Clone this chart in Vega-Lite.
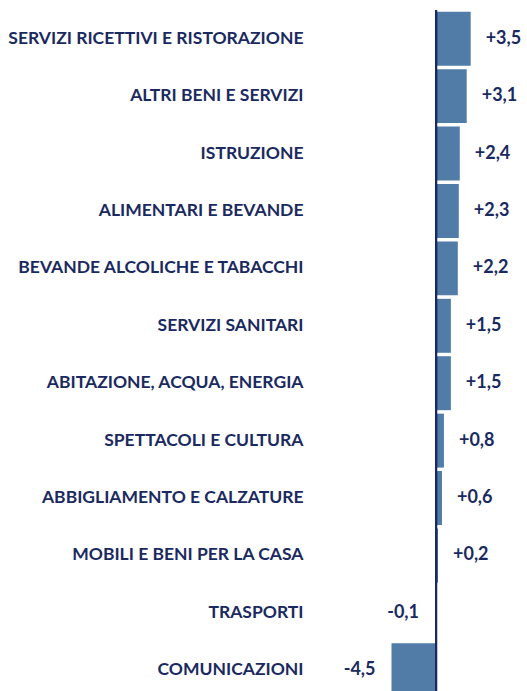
{
  "$schema": "https://vega.github.io/schema/vega-lite/v6.json",
  "autosize": {"type": "none"},
  "padding": {"left": 310, "top": 10, "right": 0, "bottom": 0},
  "width": 217,
  "height": 689,
  "background": "white",
  "config": {
    "view": {"stroke": null},
    "locale": {"number": {"decimal": ",", "thousands": ".", "grouping": [3], "currency": ["", " €"], "minus": "-"}}
  },
  "data": {
    "values": [
      {"cat": "SERVIZI RICETTIVI E RISTORAZIONE", "v": 3.5},
      {"cat": "ALTRI BENI E SERVIZI", "v": 3.1},
      {"cat": "ISTRUZIONE", "v": 2.4},
      {"cat": "ALIMENTARI E BEVANDE", "v": 2.3},
      {"cat": "BEVANDE ALCOLICHE E TABACCHI", "v": 2.2},
      {"cat": "SERVIZI SANITARI", "v": 1.5},
      {"cat": "ABITAZIONE, ACQUA, ENERGIA", "v": 1.5},
      {"cat": "SPETTACOLI E CULTURA", "v": 0.8},
      {"cat": "ABBIGLIAMENTO E CALZATURE", "v": 0.6},
      {"cat": "MOBILI E BENI PER LA CASA", "v": 0.2},
      {"cat": "TRASPORTI", "v": -0.1},
      {"cat": "COMUNICAZIONI", "v": -4.5}
    ]
  },
  "encoding": {
    "y": {
      "field": "cat", "type": "nominal", "sort": null,
      "scale": {"paddingInner": 0.06, "paddingOuter": 0.03},
      "axis": {
        "title": null, "domain": false, "ticks": false, "labelPadding": 7,
        "labelFont": "Lato", "labelFontSize": 17.5, "labelFontWeight": "bold",
        "labelColor": "#1a2a60", "labelLimit": 400
      }
    }
  },
  "layer": [
    {
      "mark": {"type": "bar", "color": "#517ca8"},
      "encoding": {
        "x": {
          "field": "v", "type": "quantitative",
          "scale": {"domain": [-12.73, 9.19], "nice": false, "zero": false},
          "axis": null
        }
      }
    },
    {
      "transform": [{"filter": "datum.v >= 0"}],
      "mark": {"type": "text", "align": "left", "dx": 15, "font": "Lato", "fontSize": 18, "fontWeight": "bold", "color": "#1a2a60"},
      "encoding": {
        "x": {"field": "v", "type": "quantitative"},
        "text": {"field": "v", "type": "quantitative", "format": "+.1f"}
      }
    },
    {
      "transform": [{"filter": "datum.v < 0"}],
      "mark": {"type": "text", "align": "right", "dx": -16, "font": "Lato", "fontSize": 18, "fontWeight": "bold", "color": "#1a2a60"},
      "encoding": {
        "x": {"field": "v", "type": "quantitative"},
        "text": {"field": "v", "type": "quantitative", "format": "+.1f"}
      }
    },
    {
      "mark": {"type": "rule", "color": "#1a2a60", "strokeWidth": 2},
      "encoding": {"x": {"datum": 0, "type": "quantitative"}, "y": null}
    }
  ]
}
